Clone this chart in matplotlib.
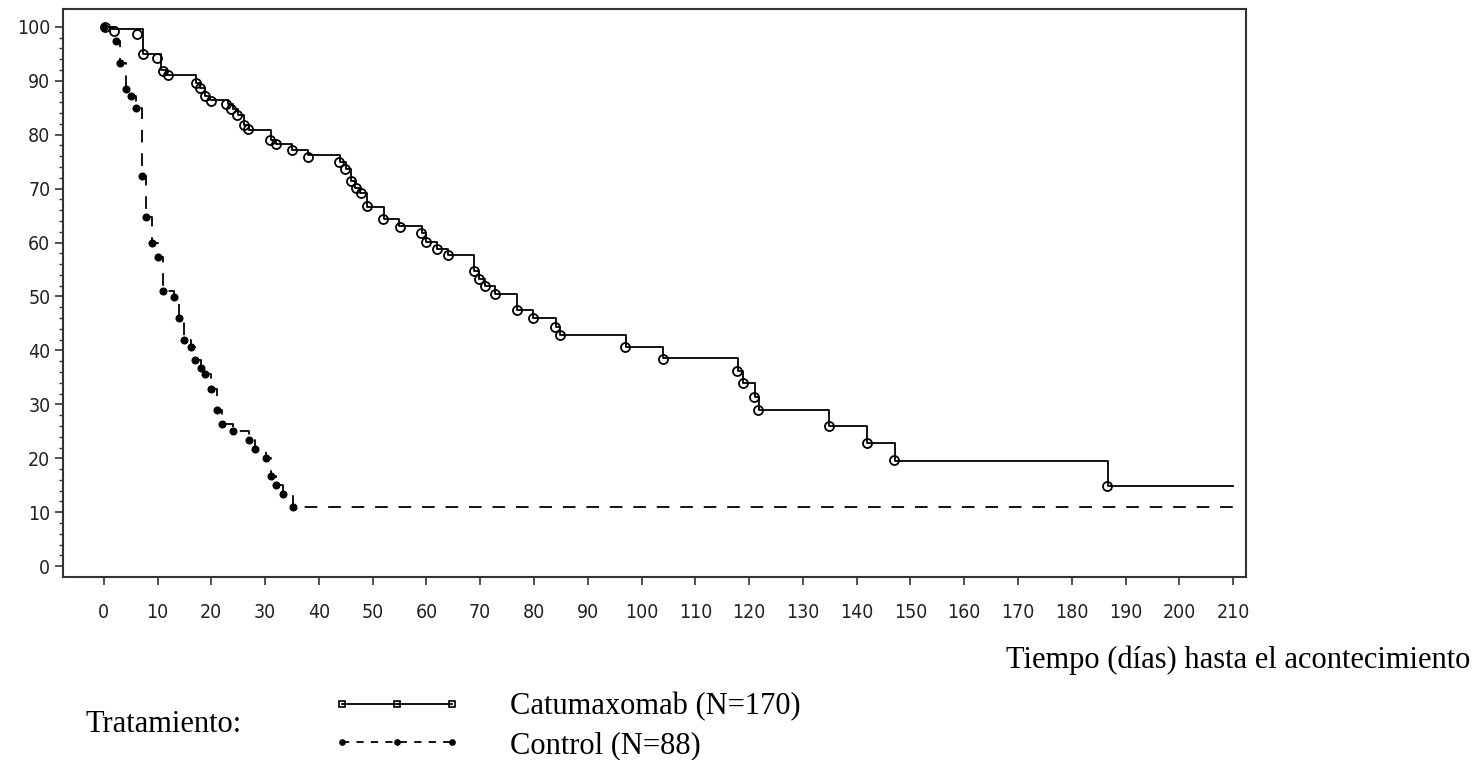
import numpy as np
import matplotlib
matplotlib.use("Agg")
import matplotlib.pyplot as plt
from matplotlib.lines import Line2D
from matplotlib.ticker import FixedLocator

# Catumaxomab: step times (dias) y supervivencia (%) despues de cada paso
cat_t = [0, 1.5, 7.3, 10.7, 11.5, 17.1, 17.9, 18.8, 19.8, 23.1, 24.0, 25.0, 26.0, 27.0,
         31.0, 32.0, 35.0, 38.0, 43.9, 45.0, 46.0, 46.8, 47.7, 48.9, 52.1, 54.9, 59.1,
         60.0, 62.0, 64.0, 68.9, 69.8, 70.9, 72.8, 76.9, 79.9, 84.1, 84.9, 97.2, 104.0,
         118.0, 118.9, 121.1, 121.8, 134.9, 142.0, 147.1, 186.7, 210]
cat_s = [100, 99.5, 95.0, 92.0, 91.0, 89.6, 88.7, 87.1, 86.4, 85.6, 84.7, 83.7, 81.7, 80.9,
         79.0, 78.3, 77.2, 76.3, 74.9, 73.7, 71.4, 70.2, 69.1, 66.6, 64.3, 63.0, 61.7,
         60.1, 58.8, 57.6, 54.7, 53.3, 51.9, 50.5, 47.5, 46.1, 44.4, 42.8, 40.6, 38.6,
         36.1, 33.9, 31.4, 28.9, 25.9, 22.9, 19.5, 14.8, 14.8]

# Catumaxomab: observaciones censuradas (circulos)
cat_cens_t = [0.2, 1.9, 6.2, 7.3, 9.9, 11.0, 12.0, 17.1, 17.9, 18.9, 19.9, 22.8, 23.7, 24.8,
              26.0, 26.9, 30.9, 32.0, 35.0, 37.9, 43.7, 44.8, 45.9, 46.9, 47.8, 49.0, 52.0,
              55.0, 58.9, 59.9, 61.9, 64.0, 68.9, 69.8, 70.9, 72.8, 76.9, 79.8, 83.9, 84.9,
              97.0, 104.0, 117.8, 118.9, 121.0, 121.7, 134.9, 141.9, 147.0, 186.6]
cat_cens_s = [100, 99.3, 98.6, 94.9, 94.2, 91.8, 91.1, 89.6, 88.7, 87.1, 86.2, 85.6, 84.7, 83.7,
              81.7, 81.0, 79.0, 78.2, 77.2, 75.9, 74.9, 73.7, 71.4, 70.2, 69.1, 66.7, 64.3,
              62.8, 61.7, 60.1, 58.8, 57.6, 54.7, 53.3, 51.9, 50.5, 47.5, 46.1, 44.4, 42.8,
              40.7, 38.5, 36.1, 33.9, 31.4, 28.9, 25.9, 22.9, 19.6, 14.8]

# Control
ctl_t = [0, 2.2, 3.0, 4.2, 5.0, 5.9, 7.1, 7.9, 9.0, 10.1, 11.0, 13.0, 14.0, 14.9, 16.2,
         16.9, 18.0, 18.9, 19.9, 21.0, 22.0, 24.1, 27.0, 28.1, 30.1, 31.0, 32.0, 33.4, 35.1, 210]
ctl_s = [100, 97.4, 93.2, 88.4, 87.1, 85.0, 72.3, 64.7, 60.0, 57.3, 51.0, 49.9, 46.0, 42.0, 40.7,
         38.2, 36.8, 35.6, 32.9, 29.0, 26.4, 25.0, 23.4, 21.7, 20.0, 16.7, 15.0, 13.3, 10.9, 10.9]

x_ticks = list(range(0, 211, 10))
y_ticks = list(range(0, 101, 10))

cat_label = "Catumaxomab (N=170)"
ctl_label = "Control (N=88)"

tick_font = ["DejaVu Sans"]
serif_font = ["Liberation Serif", "DejaVu Serif"]

fig = plt.figure(figsize=(14.81, 7.6), dpi=100)
ax = fig.add_axes([0.0425, 0.2408, 0.7988, 0.7474])

dash = (0, (7, 6))
ax.step(cat_t, cat_s, where="post", color="black", lw=1.3)
ax.plot(cat_cens_t, cat_cens_s, "o", ms=6.5, mfc="none", mec="black", mew=1.3)
ax.step(ctl_t, ctl_s, where="post", color="black", lw=1.3, linestyle=dash)
ax.plot(ctl_t[:-1], ctl_s[:-1], "o", ms=4.8, color="black")

ax.set_xlim(-7.6, 212.4)
ax.set_ylim(-2.0, 103.3)
ax.set_xticks(x_ticks)
ax.set_yticks(y_ticks)
ax.yaxis.set_minor_locator(FixedLocator([v for v in range(0, 101, 2) if v % 10]))
ax.tick_params(axis="both", which="major", direction="out", length=6, width=1.2, color="#333333")
ax.tick_params(axis="y", which="minor", direction="out", length=3, width=1.0, color="#333333")
ax.tick_params(axis="x", pad=13)
ax.tick_params(axis="y", pad=3)
for lab in ax.get_xticklabels() + ax.get_yticklabels():
    lab.set_family(tick_font)
    lab.set_stretch("condensed")
    lab.set_fontsize(14)
    lab.set_color("#222222")
for sp in ax.spines.values():
    sp.set_linewidth(1.5)
    sp.set_color("#333333")

fig.text(0.9926, 1 - 660 / 760, "Tiempo (días) hasta el acontecimiento", ha="right", va="center",
         family=serif_font, fontsize=22)
fig.text(85 / 1481, 1 - 725 / 760, "Tratamiento:", ha="left", va="center",
         family=serif_font, fontsize=22)

handles = [
    Line2D([], [], color="black", lw=1.3, marker="s", ms=5, mfc="none", mec="black", mew=1.2),
    Line2D([], [], color="black", lw=1.3, linestyle=(0, (4, 4)), marker="o", ms=3.8),
]
fig.legend(handles, [cat_label, ctl_label], loc="upper left",
           bbox_to_anchor=(333 / 1481, 1 - 692 / 760), frameon=False, numpoints=3,
           prop={"family": serif_font, "size": 22}, handlelength=4.2, handletextpad=1.6,
           labelspacing=0.32, borderpad=0, borderaxespad=0)

fig.savefig("out.png", dpi=100)
